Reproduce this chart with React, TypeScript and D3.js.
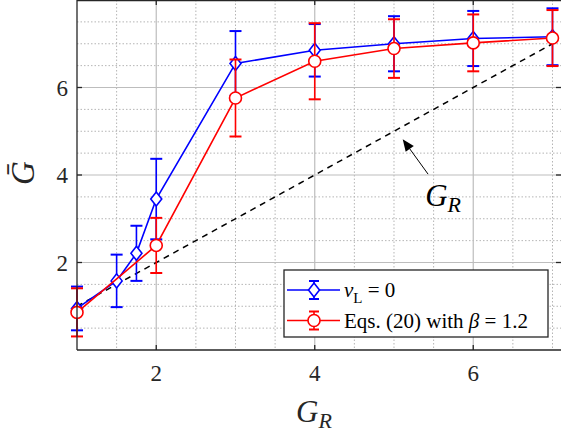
import React, { useEffect, useRef } from "react";
import * as d3 from "d3";

const blueX = [1, 1.5, 1.75, 2, 3, 4, 5, 6, 7];
const blueY = [0.95, 1.58, 2.21, 3.45, 6.55, 6.85, 7.0, 7.12, 7.16];
const blueErr = [0.5, 0.6, 0.63, 0.92, 0.74, 0.6, 0.63, 0.63, 0.65];

const redX = [1, 2, 3, 4, 5, 6, 7];
const redY = [0.86, 2.39, 5.76, 6.6, 6.89, 7.02, 7.13];
const redErr = [0.55, 0.63, 0.88, 0.87, 0.67, 0.65, 0.64];

const refLineX = [1, 7];
const xTicks = [2, 4, 6];
const yTicks = [2, 4, 6];

const W = 561;
const H = 437;
const SERIF = "Liberation Serif";

export default function App() {
  const svgRef = useRef<SVGSVGElement>(null);
  useEffect(() => {
    if (!svgRef.current) return;
    d3.select(svgRef.current)
      .selectAll("text, tspan")
      .each(function () {
        (this as SVGElement).style.setProperty("font-family", SERIF, "important");
      });
  }, []);

  const left = 77, right = 562, top = 0, bottom = 350;
  const x = d3.scaleLinear().domain([1, 7.12]).range([left, right]);
  const y = d3.scaleLinear().domain([0, 8]).range([bottom, top]);

  const minorX = d3.range(1.5, 7.11, 0.5).filter((v) => !xTicks.includes(v));
  const minorY = d3.range(0.5, 7.99, 0.5).filter((v) => !yTicks.includes(v));

  const line = d3.line<[number, number]>().x((d) => x(d[0])).y((d) => y(d[1]));
  const bluePts: [number, number][] = blueX.map((v, i) => [v, blueY[i]]);
  const redPts: [number, number][] = redX.map((v, i) => [v, redY[i]]);

  const cap = 6;
  const errBars = (xs: number[], ys: number[], es: number[], color: string) =>
    xs.map((xv, i) => {
      const cx = x(xv);
      const y1 = y(ys[i] + es[i]);
      const y2 = y(ys[i] - es[i]);
      return (
        <g key={i} stroke={color} strokeWidth={1.6} fill="none">
          <line x1={cx} x2={cx} y1={y1} y2={y2} />
          <line x1={cx - cap} x2={cx + cap} y1={y1} y2={y1} strokeWidth={2} />
          <line x1={cx - cap} x2={cx + cap} y1={y2} y2={y2} strokeWidth={2} />
        </g>
      );
    });

  const diamond = (cx: number, cy: number, key: any) => (
    <path
      key={key}
      d={`M${cx},${cy - 7} L${cx + 5.5},${cy} L${cx},${cy + 7} L${cx - 5.5},${cy} Z`}
      fill="white"
      stroke="blue"
      strokeWidth={1.6}
    />
  );
  const circle = (cx: number, cy: number, key: any) => (
    <circle key={key} cx={cx} cy={cy} r={6} fill="white" stroke="red" strokeWidth={1.6} />
  );

  const arrTip = [5.11, 4.82];
  const arrTail = [5.43, 4.02];
  const annText = [5.62, 3.3];
  const ang = Math.atan2(y(arrTip[1]) - y(arrTail[1]), x(arrTip[0]) - x(arrTail[0]));
  const ah = 12, aw = 5;
  const tx = x(arrTip[0]), ty = y(arrTip[1]);
  const bx = tx - ah * Math.cos(ang), by = ty - ah * Math.sin(ang);
  const px = -Math.sin(ang) * aw, py = Math.cos(ang) * aw;

  const lgX = 284, lgY = 270, lgW = 264, lgH = 67;
  const row1 = 290, row2 = 320.5;
  const lsx1 = 287, lsx2 = 340, lmx = 314;

  const tf = { fontFamily: SERIF };

  return (
    <div id="chartwrap" style={{ position: "absolute", left: 0, top: 0, width: W, height: H, fontFamily: SERIF }}>
      <svg ref={svgRef} id="chart" width={W} height={H} style={{ display: "block" }}>
        <style>{`#chartwrap #chart text, #chartwrap #chart tspan { font-family: "Liberation Serif" !important; }`}</style>
        <rect x={0} y={0} width={W} height={H} fill="white" />
        <g stroke="#b5b5b5" strokeWidth={1} strokeDasharray="1.5,2">
          {minorX.map((v) => (
            <line key={"mx" + v} x1={x(v)} x2={x(v)} y1={top} y2={bottom} />
          ))}
          {minorY.map((v) => (
            <line key={"my" + v} x1={left} x2={right} y1={y(v)} y2={y(v)} />
          ))}
        </g>
        <g stroke="#bdbdbd" strokeWidth={1.2}>
          {xTicks.map((v) => (
            <line key={"gx" + v} x1={x(v)} x2={x(v)} y1={top} y2={bottom} />
          ))}
          {yTicks.map((v) => (
            <line key={"gy" + v} x1={left} x2={right} y1={y(v)} y2={y(v)} />
          ))}
        </g>
        <path
          d={line(refLineX.map((v) => [v, v]) as [number, number][]) || ""}
          stroke="black"
          strokeWidth={1.5}
          strokeDasharray="6,5"
          fill="none"
        />
        <path d={line(bluePts) || ""} stroke="blue" strokeWidth={1.6} fill="none" />
        {errBars(blueX, blueY, blueErr, "blue")}
        {bluePts.map((p, i) => diamond(x(p[0]), y(p[1]), "d" + i))}
        <path d={line(redPts) || ""} stroke="red" strokeWidth={1.6} fill="none" />
        {errBars(redX, redY, redErr, "red")}
        {redPts.map((p, i) => circle(x(p[0]), y(p[1]), "c" + i))}

        <g stroke="#262626" strokeWidth={1.3} fill="none">
          <line x1={left} x2={left} y1={top} y2={bottom} />
          <line x1={left} x2={right} y1={bottom} y2={bottom} />
          <line x1={left} x2={right} y1={top + 0.6} y2={top + 0.6} />
          {xTicks.map((v) => (
            <g key={"tx" + v}>
              <line x1={x(v)} x2={x(v)} y1={bottom} y2={bottom - 5} />
              <line x1={x(v)} x2={x(v)} y1={top} y2={top + 5} />
            </g>
          ))}
          {yTicks.map((v) => (
            <g key={"ty" + v}>
              <line x1={left} x2={left + 5} y1={y(v)} y2={y(v)} />
              <line x1={right - 1} x2={right - 6} y1={y(v)} y2={y(v)} />
            </g>
          ))}
        </g>
        {xTicks.map((v) => (
          <text key={"lx" + v} x={x(v)} y={bottom + 31} textAnchor="middle" fontSize={23} fill="#262626" style={tf}>
            {String(v)}
          </text>
        ))}
        {yTicks.map((v) => (
          <text key={"ly" + v} x={left - 9} y={y(v) + 8} textAnchor="end" fontSize={23} fill="#262626" style={tf}>
            {String(v)}
          </text>
        ))}
        <text x={314} y={422} textAnchor="middle" fontSize={31} fill="#262626" style={tf}>
          <tspan fontStyle="italic">G</tspan>
          <tspan fontStyle="italic" fontSize={22} dy={6}>R</tspan>
        </text>
        <text transform="translate(34,173) rotate(-90)" textAnchor="middle" fontSize={33} fontStyle="italic" fill="#262626" style={tf}>
          {"G\u0304"}
        </text>
        <line x1={x(arrTail[0])} y1={y(arrTail[1])} x2={bx} y2={by} stroke="black" strokeWidth={1} />
        <path d={`M${tx},${ty} L${bx + px},${by + py} L${bx - px},${by - py} Z`} fill="black" />
        <text x={x(annText[0])} y={y(annText[1])} textAnchor="middle" fontSize={31} fill="black" style={tf}>
          <tspan fontStyle="italic">G</tspan>
          <tspan fontStyle="italic" fontSize={22} dy={6}>R</tspan>
        </text>
        <rect x={lgX} y={lgY} width={lgW} height={lgH} fill="white" stroke="#262626" strokeWidth={1.3} />
        <g>
          <line x1={lsx1} x2={lsx2} y1={row1} y2={row1} stroke="blue" strokeWidth={1.6} />
          <line x1={lmx} x2={lmx} y1={row1 - 9} y2={row1 + 9} stroke="blue" strokeWidth={1.6} />
          <line x1={lmx - 5} x2={lmx + 5} y1={row1 - 9} y2={row1 - 9} stroke="blue" strokeWidth={2} />
          <line x1={lmx - 5} x2={lmx + 5} y1={row1 + 9} y2={row1 + 9} stroke="blue" strokeWidth={2} />
          {diamond(lmx, row1, "ld")}
          <text x={344} y={row1 + 7} fontSize={21} fill="black" style={tf}>
            <tspan fontStyle="italic">ν</tspan>
            <tspan fontSize={15} dy={6}>L</tspan>
            <tspan dy={-6}>{" = 0"}</tspan>
          </text>
          <line x1={lsx1} x2={lsx2} y1={row2} y2={row2} stroke="red" strokeWidth={1.6} />
          <line x1={lmx} x2={lmx} y1={row2 - 9} y2={row2 + 9} stroke="red" strokeWidth={1.6} />
          <line x1={lmx - 5} x2={lmx + 5} y1={row2 - 9} y2={row2 - 9} stroke="red" strokeWidth={2} />
          <line x1={lmx - 5} x2={lmx + 5} y1={row2 + 9} y2={row2 + 9} stroke="red" strokeWidth={2} />
          {circle(lmx, row2, "lc")}
          <text x={344} y={row2 + 7} fontSize={21} fill="black" style={tf}>
            <tspan>{"Eqs. (20) with "}</tspan>
            <tspan fontStyle="italic">β</tspan>
            <tspan>{" = 1.2"}</tspan>
          </text>
        </g>
      </svg>
    </div>
  );
}
